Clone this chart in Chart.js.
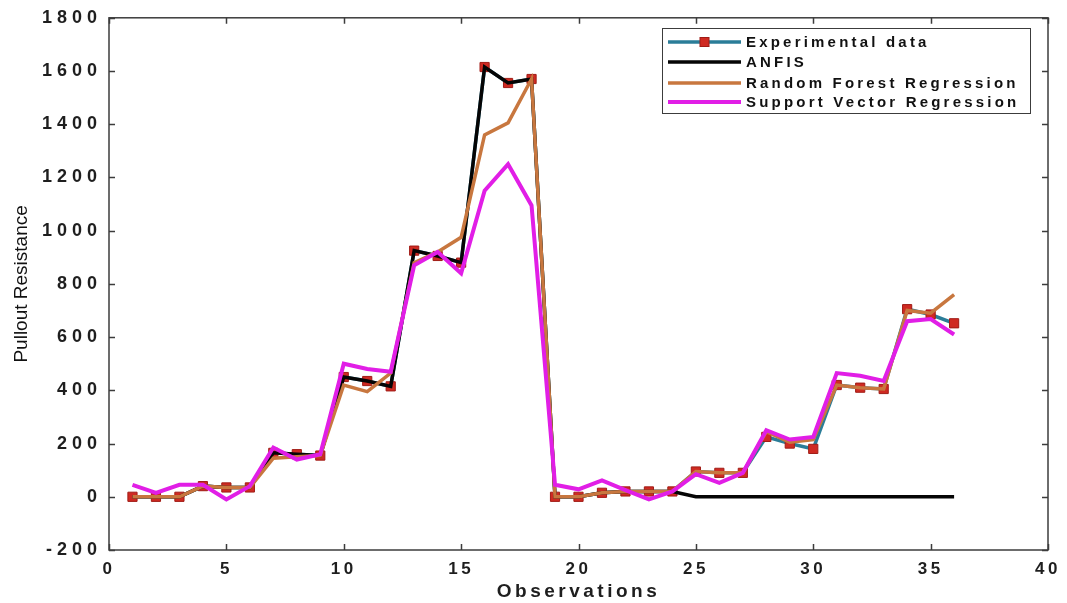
<!DOCTYPE html>
<html>
<head>
<meta charset="utf-8">
<title>Pullout Resistance</title>
<script src="https://cdn.jsdelivr.net/npm/chart.js@4/dist/chart.umd.min.js"></script>
<style>
  html, body { margin: 0; padding: 0; background: #fff; }
  #wrap { width: 1067px; height: 603px; }
</style>
</head>
<body>
<div id="wrap"><canvas id="pulloutChart" width="1067" height="603"></canvas></div>
<script>
// --- data ---
const observations = [1, 2, 3, 4, 5, 6, 7, 8, 9, 10, 11, 12, 13, 14, 15, 16, 17, 18,
  19, 20, 21, 22, 23, 24, 25, 26, 27, 28, 29, 30, 31, 32, 33, 34, 35, 36];

const experimental = [0, 0, 0, 40, 35, 35, 165, 160, 155, 450, 435, 415, 925, 905, 880, 1615, 1555, 1570,
  0, 0, 15, 20, 20, 20, 95, 90, 90, 225, 200, 180, 420, 410, 405, 705, 685, 652];

const anfis = [0, 0, 0, 40, 35, 35, 165, 160, 155, 450, 435, 415, 925, 905, 880, 1615, 1555, 1570,
  0, 0, 15, 20, 20, 20, 0, 0, 0, 0, 0, 0, 0, 0, 0, 0, 0, 0];

const randomForest = [0, 0, 0, 40, 35, 35, 145, 150, 155, 420, 395, 465, 880, 920, 975, 1360, 1405, 1570,
  0, 0, 15, 20, 20, 20, 95, 90, 90, 245, 205, 215, 420, 410, 405, 700, 690, 760];

const svr = [45, 15, 45, 45, -10, 40, 185, 140, 160, 500, 480, 470, 870, 920, 840, 1150, 1250, 1095,
  45, 28, 62, 25, -10, 20, 85, 52, 90, 250, 215, 225, 465, 455, 435, 660, 668, 610];

const seriesNames = ["Experimental data", "ANFIS", "Random Forest Regression", "Support Vector Regression"];
const xTickValues = [0, 5, 10, 15, 20, 25, 30, 35, 40];
const yTickValues = [-200, 0, 200, 400, 600, 800, 1000, 1200, 1400, 1600, 1800];

const toPoints = (vals) => vals.map((v, i) => ({ x: observations[i], y: v }));

Chart.defaults.font.family = '"Liberation Sans", Arial, sans-serif';
Chart.defaults.color = "#1e1e1e";

// box, inward tick marks, y title and the legend, drawn the matlab way
const framePlugin = {
  id: "frame",
  beforeDraw(chart) {
    // x labels + x title are drawn before the datasets
    chart.ctx.letterSpacing = "3.5px";
  },
  afterDatasetsDraw(chart) {
    // y labels (ticks.z = 1) come after the datasets, a bit wider
    chart.ctx.letterSpacing = "5px";
  },
  afterDraw(chart) {
    const { ctx, chartArea: a, scales: { x, y } } = chart;
    ctx.save();
    ctx.letterSpacing = "0px";
    ctx.strokeStyle = "#3c3c3c";
    ctx.lineWidth = 1.5;
    ctx.strokeRect(a.left, a.top, a.right - a.left, a.bottom - a.top);

    ctx.beginPath();
    x.ticks.forEach(t => {
      const px = Math.round(x.getPixelForValue(t.value)) + 0.5;
      ctx.moveTo(px, a.bottom); ctx.lineTo(px, a.bottom - 6);
      ctx.moveTo(px, a.top); ctx.lineTo(px, a.top + 6);
    });
    y.ticks.forEach(t => {
      const py = Math.round(y.getPixelForValue(t.value)) + 0.5;
      ctx.moveTo(a.left, py); ctx.lineTo(a.left + 6, py);
      ctx.moveTo(a.right, py); ctx.lineTo(a.right - 6, py);
    });
    ctx.stroke();

    // y axis title
    ctx.save();
    ctx.translate(22, (a.top + a.bottom) / 2);
    ctx.rotate(-Math.PI / 2);
    ctx.font = '19px "Liberation Sans", Arial, sans-serif';
    ctx.fillStyle = "#111";
    ctx.textAlign = "center";
    ctx.textBaseline = "middle";
    ctx.fillText("Pullout Resistance", 0, 0);
    ctx.restore();

    // legend box
    const bx = 662, by = 28, bw = 368, bh = 85;
    ctx.fillStyle = "#fff";
    ctx.fillRect(bx, by, bw, bh);
    ctx.strokeStyle = "#3c3c3c";
    ctx.lineWidth = 1;
    ctx.strokeRect(bx + 0.5, by + 0.5, bw, bh);

    const rows = [42, 62, 83, 102];
    ctx.font = 'bold 15px "Liberation Sans", Arial, sans-serif';
    ctx.letterSpacing = "3.2px";
    ctx.textAlign = "left";
    ctx.textBaseline = "middle";
    chart.data.datasets.forEach((ds, i) => {
      const ry = rows[i];
      ctx.strokeStyle = ds.borderColor;
      ctx.lineWidth = ds.borderWidth;
      ctx.beginPath();
      ctx.moveTo(668, ry);
      ctx.lineTo(741, ry);
      ctx.stroke();
      if (ds.pointRadius > 0) {
        ctx.fillStyle = ds.pointBackgroundColor;
        ctx.strokeStyle = ds.pointBorderColor;
        ctx.lineWidth = 1;
        ctx.fillRect(700, ry - 4.5, 9, 9);
        ctx.strokeRect(700, ry - 4.5, 9, 9);
      }
      ctx.fillStyle = "#111";
      ctx.fillText(ds.label, 746, ry + 1);
    });
    ctx.restore();
  }
};

const ctx = document.getElementById("pulloutChart").getContext("2d");
new Chart(ctx, {
  type: "line",
  data: {
    datasets: [
      {
        label: seriesNames[0],
        data: toPoints(experimental),
        borderColor: "#2b7d98",
        borderWidth: 3.5,
        pointStyle: "rect",
        pointRadius: 6.5,
        pointBackgroundColor: "#cf2a22",
        pointBorderColor: "#a01c16",
        pointBorderWidth: 1,
        order: 4
      },
      {
        label: seriesNames[1],
        data: toPoints(anfis),
        borderColor: "#050505",
        borderWidth: 3.5,
        pointRadius: 0,
        order: 3
      },
      {
        label: seriesNames[2],
        data: toPoints(randomForest),
        borderColor: "#c8773f",
        borderWidth: 3.5,
        pointRadius: 0,
        order: 2
      },
      {
        label: seriesNames[3],
        data: toPoints(svr),
        borderColor: "#e11ee6",
        borderWidth: 4,
        pointRadius: 0,
        order: 1
      }
    ]
  },
  options: {
    responsive: false,
    animation: false,
    events: [],
    layout: { padding: { top: 15, right: 19, left: 0, bottom: 0 }, autoPadding: false },
    plugins: {
      legend: { display: false },
      tooltip: { enabled: false }
    },
    elements: { line: { tension: 0 } },
    scales: {
      x: {
        type: "linear",
        min: 0,
        max: 40,
        afterBuildTicks: (scale) => { scale.ticks = xTickValues.map(v => ({ value: v })); },
        afterFit: (scale) => { scale.height = 53; },
        grid: { display: false },
        border: { display: false },
        ticks: {
          padding: 1,
          font: { size: 17, weight: "bold" },
          maxRotation: 0,
          callback: (v) => String(v)
        },
        title: {
          display: true,
          text: "Observations",
          font: { size: 19, weight: "bold" },
          padding: { top: 0, bottom: 0 }
        }
      },
      y: {
        type: "linear",
        min: -200,
        max: 1800,
        afterBuildTicks: (scale) => { scale.ticks = yTickValues.map(v => ({ value: v })); },
        afterFit: (scale) => { scale.width = 109; },
        grid: { display: false, drawTicks: false },
        border: { display: false },
        ticks: {
          z: 1,
          padding: 7,
          font: { size: 18, weight: "bold" },
          callback: (v) => String(v)
        }
      }
    }
  },
  plugins: [framePlugin]
});
</script>
</body>
</html>
